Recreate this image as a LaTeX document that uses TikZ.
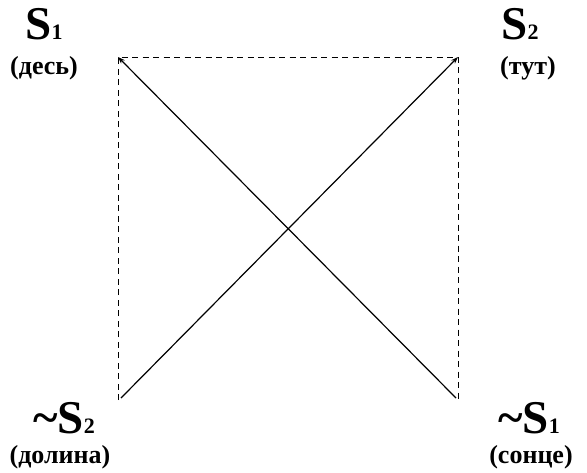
\documentclass[tikz,border=0pt]{standalone}
\usepackage{fontspec}
\setmainfont{Liberation Serif}
\usetikzlibrary{arrows.meta}
\tikzset{
  big/.style={font=\bfseries\fontsize{47}{47}\selectfont, anchor=base, inner sep=0pt},
  small/.style={font=\bfseries\fontsize{26}{26}\selectfont, anchor=base, inner sep=0pt},
  edge/.style={dash pattern=on 6pt off 4.5pt, line width=1pt},
  diag/.style={line width=1.2pt, -{Stealth[length=7pt,width=5pt]}}
}
\newcommand{\dg}[1]{{\fontsize{22}{22}\selectfont #1}}
\begin{document}
\begin{tikzpicture}[x=1pt,y=-1pt]
\useasboundingbox (0,0) rectangle (587,472);
\coordinate (tl) at (118,57);
\coordinate (tr) at (458,57);
\coordinate (bl) at (118,400);
\coordinate (br) at (458,400);
\coordinate (blstart) at (121,398);
\coordinate (brstart) at (456,398);
\draw[edge] (bl) -- (tl) -- (tr) -- (br);
\draw[diag] (brstart) -- (tl);
\draw[diag] (blstart) -- (tr);
\node[big] (s1) at (44,39) {S\dg{1}};
\node[small] (s1t) at (44,74) {(десь)};
\node[big] (s2) at (520,39) {S\dg{2}};
\node[small] (s2t) at (528,74) {(тут)};
\node[big] (ns2) at (64,433) {\textasciitilde S\dg{2}};
\node[small] (ns2t) at (60,463) {(долина)};
\node[big] (ns1) at (529,433) {\textasciitilde S\dg{1}};
\node[small] (ns1t) at (531,463) {(сонце)};
\end{tikzpicture}
\end{document}
